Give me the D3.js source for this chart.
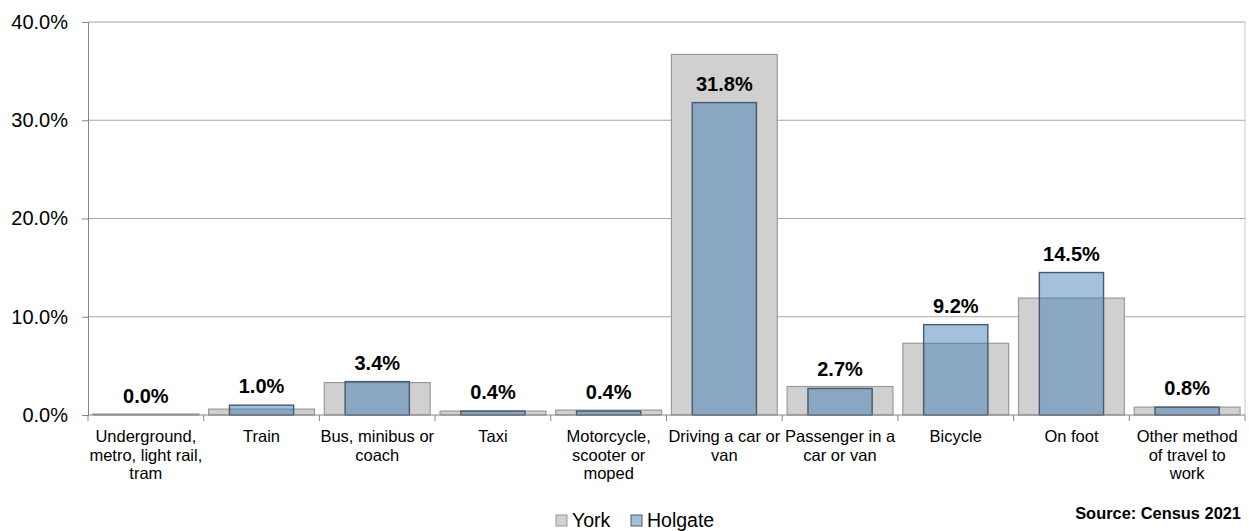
<!DOCTYPE html>
<html>
<head>
<meta charset="utf-8">
<script src="https://cdn.jsdelivr.net/npm/d3@7"></script>
<style>
  body { margin: 0; background: #fff; }
  svg { font-family: "Liberation Sans", Arial, sans-serif; }
</style>
</head>
<body>
<svg id="chart" width="1249" height="531"></svg>
<script>
// Method of travel to work, share of residents
const categories = [
  ["Underground,", "metro, light rail,", "tram"],
  ["Train"],
  ["Bus, minibus or", "coach"],
  ["Taxi"],
  ["Motorcycle,", "scooter or", "moped"],
  ["Driving a car or", "van"],
  ["Passenger in a", "car or van"],
  ["Bicycle"],
  ["On foot"],
  ["Other method", "of travel to", "work"],
];
const york = [0.1, 0.6, 3.3, 0.4, 0.5, 36.7, 2.9, 7.3, 11.9, 0.8];
const holgate = [0.0, 1.0, 3.4, 0.4, 0.4, 31.8, 2.7, 9.2, 14.5, 0.8];
const yTicks = [0, 10, 20, 30, 40];
const seriesNames = ["York", "Holgate"];

const svg = d3.select("#chart");
const plotLeft = 88, plotRight = 1245, plotTop = 22, plotBottom = 415;

const x = d3
  .scaleBand()
  .domain(d3.range(categories.length))
  .range([plotLeft, plotRight]);
const y = d3.scaleLinear().domain([0, 40]).range([plotBottom, plotTop]);

const yorkColor = "#d0d0d0";
const holgateColor = "rgba(55,117,178,0.46)";

// plot border (right side) and gridlines
svg
  .append("line")
  .attr("x1", plotRight)
  .attr("x2", plotRight)
  .attr("y1", plotTop)
  .attr("y2", plotBottom)
  .attr("stroke", "#c8c8c8")
  .attr("stroke-width", 1);

svg
  .append("g")
  .selectAll("line")
  .data(yTicks.filter((d) => d > 0))
  .join("line")
  .attr("x1", plotLeft)
  .attr("x2", plotRight)
  .attr("y1", (d) => y(d))
  .attr("y2", (d) => y(d))
  .attr("stroke", "#a6a6a6")
  .attr("stroke-width", 1);

// York bars (wide)
const yw = x.bandwidth() * 0.915;
svg
  .append("g")
  .selectAll("rect")
  .data(york)
  .join("rect")
  .attr("x", (d, i) => x(i) + (x.bandwidth() - yw) / 2)
  .attr("y", (d) => y(d))
  .attr("width", yw)
  .attr("height", (d) => plotBottom - y(d))
  .attr("fill", yorkColor)
  .attr("stroke", "#9a9a9a")
  .attr("stroke-width", 1.2);

// Holgate bars (narrow, overlaid)
const hw = x.bandwidth() * 0.555;
svg
  .append("g")
  .selectAll("rect")
  .data(holgate)
  .join("rect")
  .attr("x", (d, i) => x(i) + (x.bandwidth() - hw) / 2)
  .attr("y", (d) => y(d))
  .attr("width", hw)
  .attr("height", (d) => plotBottom - y(d))
  .attr("fill", holgateColor)
  .attr("stroke", "#4a5a6b")
  .attr("stroke-width", 1.4);

// Holgate value labels
svg
  .append("g")
  .selectAll("text")
  .data(holgate)
  .join("text")
  .attr("x", (d, i) => x(i) + x.bandwidth() / 2)
  .attr("y", (d) => y(d) - 12)
  .attr("text-anchor", "middle")
  .style("font-size", "20px")
  .style("font-weight", "bold")
  .style("fill", "#000")
  .text((d) => d.toFixed(1) + "%");

// Y axis
const yAxis = svg
  .append("g")
  .attr("transform", `translate(${plotLeft},0)`)
  .call(
    d3
      .axisLeft(y)
      .tickValues(yTicks)
      .tickSize(6)
      .tickFormat((d) => d.toFixed(1) + "%")
  );
yAxis.select(".domain").attr("stroke", "#868686");
yAxis.selectAll(".tick line").attr("stroke", "#868686");
yAxis
  .selectAll(".tick text")
  .attr("x", -20)
  .style("font-size", "20px")
  .style("font-family", "Liberation Sans, Arial, sans-serif")
  .attr("fill", "#000");

// X axis with ticks between categories
svg
  .append("line")
  .attr("x1", plotLeft)
  .attr("x2", plotRight)
  .attr("y1", plotBottom)
  .attr("y2", plotBottom)
  .attr("stroke", "#868686");
svg
  .append("g")
  .selectAll("line")
  .data(d3.range(categories.length + 1))
  .join("line")
  .attr("x1", (i) => plotLeft + i * x.step())
  .attr("x2", (i) => plotLeft + i * x.step())
  .attr("y1", plotBottom)
  .attr("y2", plotBottom + 6)
  .attr("stroke", "#868686");

const catLabels = svg
  .append("g")
  .selectAll("text")
  .data(categories)
  .join("text")
  .attr("text-anchor", "middle")
  .style("font-size", "16.5px")
  .style("fill", "#000")
  .attr("y", plotBottom + 27);
catLabels
  .selectAll("tspan")
  .data((d, i) => d.map((t) => ({ t, i })))
  .join("tspan")
  .attr("x", (d) => x(d.i) + x.bandwidth() / 2)
  .attr("dy", (d, j) => (j === 0 ? 0 : 18.5))
  .text((d) => d.t);

// Legend
const legend = svg.append("g").attr("transform", "translate(556,515)");
const legendItems = [
  { name: seriesNames[0], fill: yorkColor, stroke: "#9a9a9a", dx: 0 },
  { name: seriesNames[1], fill: "#a5bedb", stroke: "#4a5a6b", dx: 75 },
];
const li = legend
  .selectAll("g")
  .data(legendItems)
  .join("g")
  .attr("transform", (d) => `translate(${d.dx},0)`);
li.append("rect")
  .attr("width", 11)
  .attr("height", 11)
  .attr("fill", (d) => d.fill)
  .attr("stroke", (d) => d.stroke);
li.append("text")
  .attr("x", 16)
  .attr("y", 12)
  .style("font-size", "19.5px")
  .style("fill", "#000")
  .text((d) => d.name);

// Source note
svg
  .append("text")
  .attr("x", 1241)
  .attr("y", 519)
  .attr("text-anchor", "end")
  .style("font-size", "16.4px")
  .style("font-weight", "bold")
  .style("fill", "#000")
  .text("Source: Census 2021");
</script>
</body>
</html>
